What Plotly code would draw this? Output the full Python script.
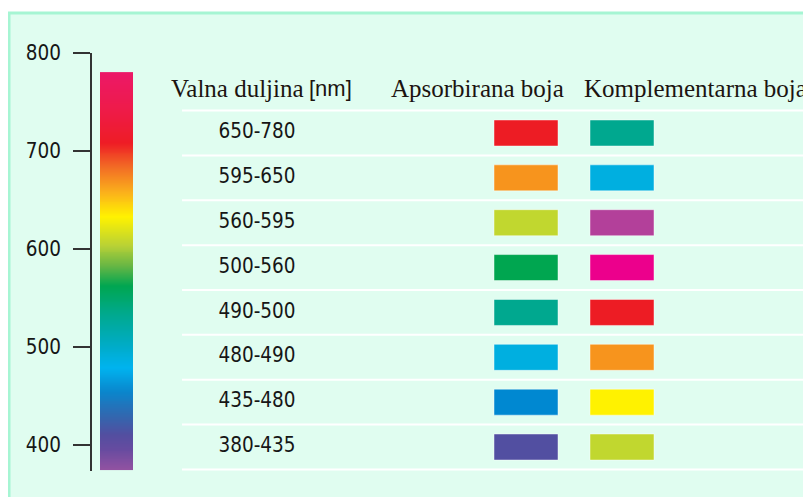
import numpy as np
import plotly.graph_objects as go

# wavelength scale on the left
AXIS_TICKS = [400, 500, 600, 700, 800]
SPECTRUM_NM = [374, 395, 410, 428, 454, 478, 500, 532, 562, 582, 603, 632, 657, 683, 708, 740, 780]
SPECTRUM_COLORS = [
    "#9252a1", "#674ba0", "#534ea0", "#3366ae", "#0a86cc", "#00b3ef", "#00acc9",
    "#00a98f", "#00a651", "#67b644", "#b8d136", "#fff200", "#fbb21b", "#f26b25",
    "#ee1c25", "#ee1b48", "#ec1868",
]

# table
RANGES = ["650-780", "595-650", "560-595", "500-560", "490-500", "480-490", "435-480", "380-435"]
ABSORBED = ["#ed1c24", "#f7941d", "#c1d72f", "#00a650", "#00a88f", "#00afe0", "#0088d1", "#524fa1"]
COMPLEMENT = ["#00a88f", "#00afe0", "#b3409a", "#ec008c", "#ed1c24", "#f7941d", "#fff200", "#c1d72f"]
HEADERS = ["Valna duljina", "[nm]", "Apsorbirana boja", "Komplementarna boja"]

W, H = 811, 497
OFF = 8  # page margin around the figure
NARROW = "DejaVu Sans Condensed, Liberation Sans Narrow, Arial Narrow, sans-serif"
SERIF = "Liberation Serif, Times New Roman, serif"

lo, hi = SPECTRUM_NM[0], SPECTRUM_NM[-1]
colorscale = [[(w - lo) / (hi - lo), c] for w, c in zip(SPECTRUM_NM, SPECTRUM_COLORS)]
ramp = np.arange(lo + 0.5, hi, 1.0)

rows = list(range(len(RANGES)))
row_px = 44.86  # spacing of table rows in pixels


def px(p):
    return (p - OFF) / W


def py(p):
    return 1 - (p - OFF) / H


fig = go.Figure()

# colour ramp
fig.add_trace(go.Heatmap(
    z=[[w] for w in ramp],
    y=ramp,
    x=[0],
    colorscale=colorscale,
    zmin=lo, zmax=hi,
    showscale=False,
    hoverinfo="skip",
))

# swatches
fig.add_trace(go.Bar(
    y=rows, x=[64] * len(rows), base=494, orientation="h", width=0.58,
    marker=dict(color=ABSORBED, line=dict(color="rgba(255,255,255,0.45)", width=1)),
    xaxis="x2", yaxis="y2", hoverinfo="skip",
))
fig.add_trace(go.Bar(
    y=rows, x=[64] * len(rows), base=590, orientation="h", width=0.58,
    marker=dict(color=COMPLEMENT, line=dict(color="rgba(255,255,255,0.45)", width=1)),
    xaxis="x2", yaxis="y2", hoverinfo="skip",
))

# range labels
fig.add_trace(go.Scatter(
    x=[257] * len(rows), y=rows, text=RANGES, mode="text",
    textfont=dict(family=NARROW, size=20.5, color="#161616"),
    xaxis="x2", yaxis="y2", hoverinfo="skip",
))

shapes = [dict(
    type="rect", xref="paper", yref="paper", layer="below",
    x0=px(9), x1=1.02, y0=-0.02, y1=py(13),
    fillcolor="#e0fdf0", line=dict(color="#a6f5d3", width=3),
)]
for k in range(-1, len(RANGES)):
    shapes.append(dict(
        type="line", xref="x2", yref="y2", layer="below",
        x0=182, x1=W + OFF, y0=k + 0.5, y1=k + 0.5,
        line=dict(color="#ffffff", width=2),
    ))

annotations = [
    dict(text=HEADERS[0], x=169, font=dict(family=SERIF, size=25)),
    dict(text=HEADERS[1], x=307, font=dict(family="Liberation Sans, Arial, sans-serif", size=22)),
    dict(text=HEADERS[2], x=389, font=dict(family=SERIF, size=25)),
    dict(text=HEADERS[3], x=582, font=dict(family=SERIF, size=25)),
]
for a in annotations:
    a.update(xref="x2", yref="y2", y=-1, showarrow=False, xanchor="left", yanchor="middle")
    a["font"]["color"] = "#1c1410"

top_px, bottom_px = 52.5, 470.5
t_top, t_bottom = 133 - 1.5 * row_px, 133 + 8 * row_px

fig.update_layout(
    width=W, height=H,
    margin=dict(l=0, r=0, t=0, b=0, pad=0),
    paper_bgcolor="#ffffff",
    plot_bgcolor="rgba(0,0,0,0)",
    showlegend=False,
    barmode="overlay",
    shapes=shapes,
    annotations=annotations,
    xaxis=dict(domain=[px(100), px(133)], range=[-0.5, 0.5], visible=False, automargin=False),
    yaxis=dict(
        domain=[py(bottom_px), py(top_px)], range=[lo, 800],
        anchor="free", position=px(91), side="left", automargin=False,
        showline=True, linecolor="#333333", linewidth=2,
        ticks="outside", ticklen=17, tickwidth=2, tickcolor="#333333",
        tickvals=AXIS_TICKS, ticklabelstandoff=8,
        tickfont=dict(family=NARROW, size=20.5, color="#161616"),
        showgrid=False, zeroline=False,
    ),
    xaxis2=dict(domain=[px(160), 1], range=[160, W + OFF], visible=False, anchor="y2", automargin=False),
    yaxis2=dict(domain=[py(t_bottom), py(t_top)], range=[8, -1.5], visible=False, anchor="x2",
                automargin=False),
)

fig.write_html("out.html")
